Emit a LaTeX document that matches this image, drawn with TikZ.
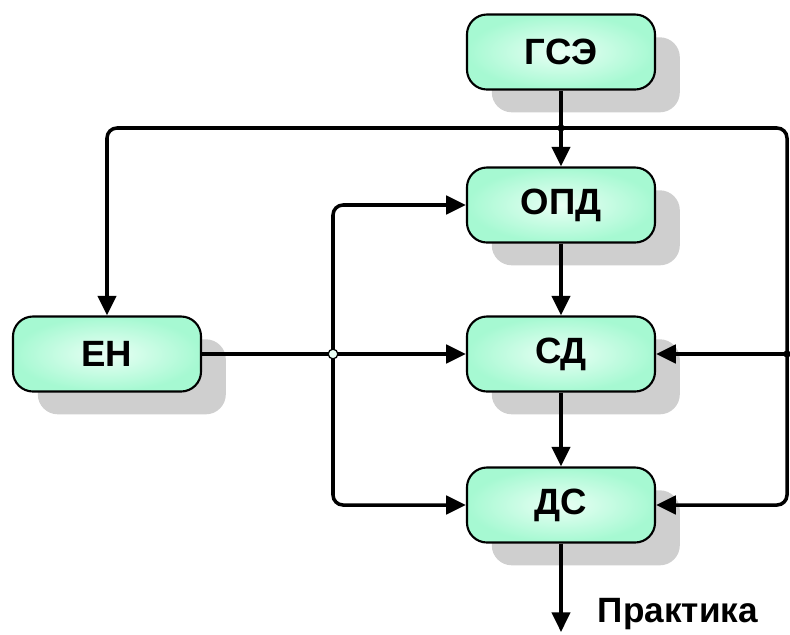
\documentclass[tikz,border=0pt]{standalone}
\usepackage{fontspec}
\setmainfont{Liberation Sans}
\usetikzlibrary{arrows.meta,shadows,positioning,calc}
\definecolor{boxouter}{HTML}{A6F9D2}
\definecolor{boxinner}{HTML}{EAFFF5}
\tikzset{
    block/.style={draw=black,line width=1.5pt,rounded corners=0.5cm,
        minimum width=4.7cm,minimum height=1.875cm,
        shading=radial,inner color=boxinner,outer color=boxouter,
        drop shadow={shadow xshift=0.62cm,shadow yshift=-0.57cm,fill=black!19,opacity=1},
        font=\fontsize{26}{30}\selectfont\bfseries},
    link/.style={line width=2.5pt,-{Triangle[length=14pt,width=13pt]}},
    joint/.style={circle,fill=black,inner sep=0pt,minimum size=0.18cm},
    hollow/.style={circle,draw=black,line width=0.9pt,fill=boxinner,inner sep=0pt,minimum size=0.24cm}
}

\begin{document}
\begin{tikzpicture}[x=0.025cm,y=-0.025cm]
            \useasboundingbox (0,0) rectangle (790,634);
            \node[block] (gse) at (561,52) {ГСЭ};
            \node[block] (opd) at (561,205) {ОПД};
            \node[block] (sd) at (561,354) {СД};
            \node[block] (ds) at (561,505) {ДС};
            \node[block] (en) at (107,354) {ЕН};
            \coordinate (jtop) at (561,128);
            \coordinate (jright) at (787,354);
            \coordinate (jleft) at (333,354);
            \coordinate (out) at (561,632);
            % vertical chain
            \draw[link] (gse) -- (opd);
            \draw[link] (opd) -- (sd);
            \draw[link] (sd) -- (ds);
            \draw[link] (ds) -- (out);
            % top branch
            \draw[link,rounded corners=0.25cm] (jtop) -| (en);
            \draw[link,rounded corners=0.25cm] (jtop) -| (jright) |- (ds);
            \draw[link] (jright) -- (sd);
            % left branch
            \draw[link] (en) -- (sd);
            \draw[link,rounded corners=0.25cm] (jleft) |- (opd);
            \draw[link,rounded corners=0.25cm] (jleft) |- (ds);
            \node[joint] at (jtop) {};
            \node[joint] at (jright) {};
            \node[hollow] at (jleft) {};
            \node[anchor=base west,font=\fontsize{25}{30}\selectfont\bfseries] (prakt) at (593,622) {Практика};
        \end{tikzpicture}
\end{document}
